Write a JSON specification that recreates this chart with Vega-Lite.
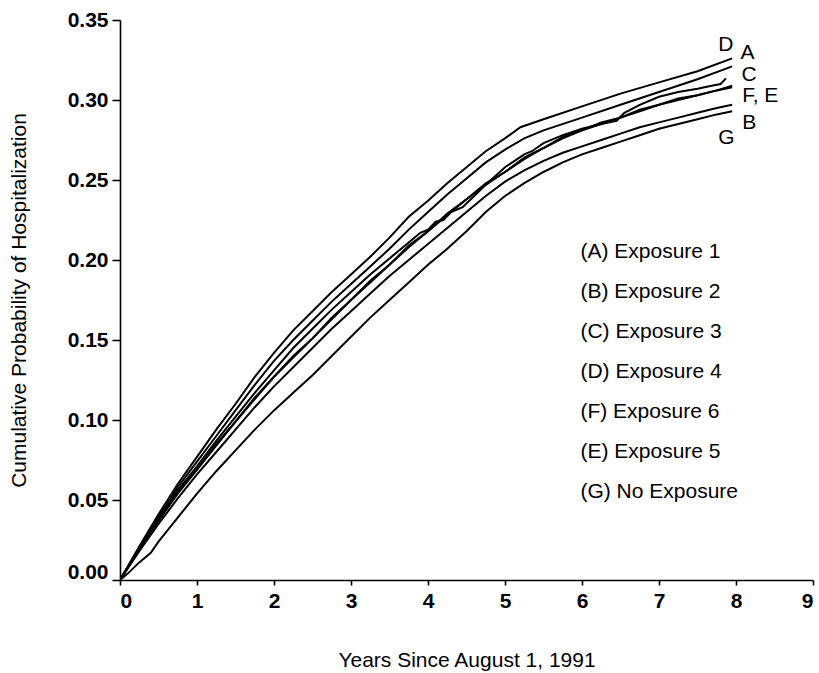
{
  "$schema": "https://vega.github.io/schema/vega-lite/v6.json",
  "width": 693,
  "height": 560,
  "autosize": {"type": "none"},
  "padding": {"left": 120, "top": 20, "right": 6, "bottom": 93},
  "background": "white",
  "config": {
    "view": {"stroke": null},
    "axis": {
      "grid": false,
      "domainColor": "black",
      "domainWidth": 1.6,
      "tickColor": "black",
      "tickWidth": 1.6,
      "labelFont": "Liberation Sans",
      "labelFontWeight": "bold",
      "labelFontSize": 21,
      "labelColor": "black",
      "titleFont": "Liberation Sans",
      "titleFontWeight": "normal",
      "titleFontSize": 21,
      "titleColor": "black"
    }
  },
  "datasets": {
    "curves": [
      {"s":"D","x":0,"y":0},{"s":"D","x":0.25,"y":0.021},{"s":"D","x":0.5,"y":0.041},{"s":"D","x":0.75,"y":0.060},{"s":"D","x":1,"y":0.077},{"s":"D","x":1.25,"y":0.094},{"s":"D","x":1.5,"y":0.110},{"s":"D","x":1.75,"y":0.127},{"s":"D","x":2,"y":0.142},{"s":"D","x":2.25,"y":0.156},{"s":"D","x":2.5,"y":0.168},{"s":"D","x":2.75,"y":0.180},{"s":"D","x":3,"y":0.191},{"s":"D","x":3.25,"y":0.202},{"s":"D","x":3.5,"y":0.214},{"s":"D","x":3.75,"y":0.227},{"s":"D","x":4,"y":0.237},{"s":"D","x":4.25,"y":0.248},{"s":"D","x":4.5,"y":0.258},{"s":"D","x":4.75,"y":0.268},{"s":"D","x":5,"y":0.276},{"s":"D","x":5.2,"y":0.283},{"s":"D","x":5.5,"y":0.288},{"s":"D","x":6,"y":0.296},{"s":"D","x":6.5,"y":0.304},{"s":"D","x":7,"y":0.311},{"s":"D","x":7.5,"y":0.318},{"s":"D","x":7.95,"y":0.326},
      {"s":"A","x":0,"y":0},{"s":"A","x":0.25,"y":0.020},{"s":"A","x":0.5,"y":0.039},{"s":"A","x":0.75,"y":0.058},{"s":"A","x":1,"y":0.074},{"s":"A","x":1.25,"y":0.090},{"s":"A","x":1.5,"y":0.106},{"s":"A","x":1.75,"y":0.122},{"s":"A","x":2,"y":0.137},{"s":"A","x":2.25,"y":0.150},{"s":"A","x":2.5,"y":0.162},{"s":"A","x":2.75,"y":0.174},{"s":"A","x":3,"y":0.185},{"s":"A","x":3.25,"y":0.196},{"s":"A","x":3.5,"y":0.207},{"s":"A","x":3.75,"y":0.219},{"s":"A","x":4,"y":0.230},{"s":"A","x":4.25,"y":0.241},{"s":"A","x":4.5,"y":0.251},{"s":"A","x":4.75,"y":0.261},{"s":"A","x":5,"y":0.269},{"s":"A","x":5.25,"y":0.276},{"s":"A","x":5.5,"y":0.281},{"s":"A","x":6,"y":0.289},{"s":"A","x":6.5,"y":0.297},{"s":"A","x":7,"y":0.305},{"s":"A","x":7.5,"y":0.313},{"s":"A","x":7.95,"y":0.321},
      {"s":"C","x":0,"y":0},{"s":"C","x":0.25,"y":0.020},{"s":"C","x":0.5,"y":0.038},{"s":"C","x":0.75,"y":0.056},{"s":"C","x":1,"y":0.071},{"s":"C","x":1.25,"y":0.087},{"s":"C","x":1.5,"y":0.102},{"s":"C","x":1.75,"y":0.117},{"s":"C","x":2,"y":0.131},{"s":"C","x":2.25,"y":0.145},{"s":"C","x":2.5,"y":0.157},{"s":"C","x":2.75,"y":0.169},{"s":"C","x":3,"y":0.180},{"s":"C","x":3.25,"y":0.191},{"s":"C","x":3.5,"y":0.201},{"s":"C","x":3.75,"y":0.211},{"s":"C","x":3.9,"y":0.217},{"s":"C","x":4,"y":0.219},{"s":"C","x":4.1,"y":0.224},{"s":"C","x":4.2,"y":0.225},{"s":"C","x":4.3,"y":0.230},{"s":"C","x":4.45,"y":0.233},{"s":"C","x":4.75,"y":0.247},{"s":"C","x":5,"y":0.258},{"s":"C","x":5.25,"y":0.266},{"s":"C","x":5.35,"y":0.268},{"s":"C","x":5.5,"y":0.273},{"s":"C","x":5.75,"y":0.278},{"s":"C","x":6,"y":0.282},{"s":"C","x":6.25,"y":0.285},{"s":"C","x":6.45,"y":0.287},{"s":"C","x":6.55,"y":0.292},{"s":"C","x":6.75,"y":0.297},{"s":"C","x":7,"y":0.302},{"s":"C","x":7.25,"y":0.305},{"s":"C","x":7.5,"y":0.307},{"s":"C","x":7.7,"y":0.309},{"s":"C","x":7.8,"y":0.310},{"s":"C","x":7.87,"y":0.3135},
      {"s":"E","x":0,"y":0},{"s":"E","x":0.25,"y":0.019},{"s":"E","x":0.5,"y":0.037},{"s":"E","x":0.75,"y":0.054},{"s":"E","x":1,"y":0.069},{"s":"E","x":1.25,"y":0.084},{"s":"E","x":1.5,"y":0.099},{"s":"E","x":1.75,"y":0.113},{"s":"E","x":2,"y":0.127},{"s":"E","x":2.25,"y":0.139},{"s":"E","x":2.5,"y":0.151},{"s":"E","x":2.75,"y":0.164},{"s":"E","x":3,"y":0.175},{"s":"E","x":3.25,"y":0.186},{"s":"E","x":3.5,"y":0.197},{"s":"E","x":3.75,"y":0.208},{"s":"E","x":4,"y":0.218},{"s":"E","x":4.25,"y":0.228},{"s":"E","x":4.5,"y":0.238},{"s":"E","x":4.75,"y":0.247},{"s":"E","x":5,"y":0.255},{"s":"E","x":5.25,"y":0.263},{"s":"E","x":5.5,"y":0.270},{"s":"E","x":5.75,"y":0.276},{"s":"E","x":6,"y":0.281},{"s":"E","x":6.25,"y":0.285},{"s":"E","x":6.5,"y":0.289},{"s":"E","x":6.75,"y":0.293},{"s":"E","x":7,"y":0.297},{"s":"E","x":7.25,"y":0.300},{"s":"E","x":7.5,"y":0.303},{"s":"E","x":7.75,"y":0.306},{"s":"E","x":7.95,"y":0.308},
      {"s":"F","x":0,"y":0},{"s":"F","x":0.25,"y":0.020},{"s":"F","x":0.5,"y":0.037},{"s":"F","x":0.75,"y":0.055},{"s":"F","x":1,"y":0.069},{"s":"F","x":1.25,"y":0.085},{"s":"F","x":1.5,"y":0.099},{"s":"F","x":1.75,"y":0.114},{"s":"F","x":2,"y":0.127},{"s":"F","x":2.25,"y":0.140},{"s":"F","x":2.5,"y":0.151},{"s":"F","x":2.75,"y":0.163},{"s":"F","x":3,"y":0.175},{"s":"F","x":3.25,"y":0.187},{"s":"F","x":3.5,"y":0.197},{"s":"F","x":3.75,"y":0.209},{"s":"F","x":4,"y":0.218},{"s":"F","x":4.25,"y":0.229},{"s":"F","x":4.5,"y":0.238},{"s":"F","x":4.75,"y":0.248},{"s":"F","x":5,"y":0.255},{"s":"F","x":5.25,"y":0.264},{"s":"F","x":5.5,"y":0.270},{"s":"F","x":5.75,"y":0.277},{"s":"F","x":6,"y":0.281},{"s":"F","x":6.25,"y":0.286},{"s":"F","x":6.5,"y":0.289},{"s":"F","x":6.75,"y":0.294},{"s":"F","x":7,"y":0.297},{"s":"F","x":7.25,"y":0.301},{"s":"F","x":7.5,"y":0.303},{"s":"F","x":7.75,"y":0.306},{"s":"F","x":7.95,"y":0.309},
      {"s":"B","x":0,"y":0},{"s":"B","x":0.25,"y":0.018},{"s":"B","x":0.5,"y":0.035},{"s":"B","x":0.75,"y":0.051},{"s":"B","x":1,"y":0.066},{"s":"B","x":1.25,"y":0.080},{"s":"B","x":1.5,"y":0.094},{"s":"B","x":1.75,"y":0.108},{"s":"B","x":2,"y":0.121},{"s":"B","x":2.25,"y":0.133},{"s":"B","x":2.5,"y":0.145},{"s":"B","x":2.75,"y":0.157},{"s":"B","x":3,"y":0.168},{"s":"B","x":3.25,"y":0.179},{"s":"B","x":3.5,"y":0.190},{"s":"B","x":3.75,"y":0.200},{"s":"B","x":4,"y":0.210},{"s":"B","x":4.25,"y":0.220},{"s":"B","x":4.5,"y":0.230},{"s":"B","x":4.75,"y":0.240},{"s":"B","x":5,"y":0.249},{"s":"B","x":5.25,"y":0.256},{"s":"B","x":5.5,"y":0.262},{"s":"B","x":5.75,"y":0.267},{"s":"B","x":6,"y":0.271},{"s":"B","x":6.25,"y":0.275},{"s":"B","x":6.5,"y":0.279},{"s":"B","x":6.75,"y":0.283},{"s":"B","x":7,"y":0.286},{"s":"B","x":7.25,"y":0.289},{"s":"B","x":7.5,"y":0.292},{"s":"B","x":7.75,"y":0.295},{"s":"B","x":7.95,"y":0.297},
      {"s":"G","x":0,"y":0},{"s":"G","x":0.1,"y":0.004},{"s":"G","x":0.25,"y":0.011},{"s":"G","x":0.4,"y":0.017},{"s":"G","x":0.5,"y":0.024},{"s":"G","x":0.75,"y":0.039},{"s":"G","x":1,"y":0.054},{"s":"G","x":1.25,"y":0.068},{"s":"G","x":1.5,"y":0.081},{"s":"G","x":1.75,"y":0.094},{"s":"G","x":2,"y":0.106},{"s":"G","x":2.25,"y":0.117},{"s":"G","x":2.5,"y":0.128},{"s":"G","x":2.75,"y":0.140},{"s":"G","x":3,"y":0.152},{"s":"G","x":3.25,"y":0.164},{"s":"G","x":3.5,"y":0.175},{"s":"G","x":3.75,"y":0.186},{"s":"G","x":4,"y":0.197},{"s":"G","x":4.25,"y":0.207},{"s":"G","x":4.5,"y":0.218},{"s":"G","x":4.75,"y":0.230},{"s":"G","x":5,"y":0.240},{"s":"G","x":5.25,"y":0.248},{"s":"G","x":5.5,"y":0.255},{"s":"G","x":5.75,"y":0.261},{"s":"G","x":6,"y":0.266},{"s":"G","x":6.25,"y":0.270},{"s":"G","x":6.5,"y":0.274},{"s":"G","x":6.75,"y":0.278},{"s":"G","x":7,"y":0.282},{"s":"G","x":7.25,"y":0.285},{"s":"G","x":7.5,"y":0.288},{"s":"G","x":7.75,"y":0.291},{"s":"G","x":7.95,"y":0.293}
    ],
    "legend": [
      {"label":"(A) Exposure 1","x":5.98,"y":0.205},
      {"label":"(B) Exposure 2","x":5.98,"y":0.180},
      {"label":"(C) Exposure 3","x":5.98,"y":0.155},
      {"label":"(D) Exposure 4","x":5.98,"y":0.130},
      {"label":"(F) Exposure 6","x":5.98,"y":0.105},
      {"label":"(E) Exposure 5","x":5.98,"y":0.080},
      {"label":"(G) No Exposure","x":5.98,"y":0.055}
    ],
    "ends": [
      {"label":"D","x":7.77,"y":0.3344},
      {"label":"A","x":8.06,"y":0.3296},
      {"label":"C","x":8.07,"y":0.3156},
      {"label":"F, E","x":8.08,"y":0.3025},
      {"label":"B","x":8.08,"y":0.2854},
      {"label":"G","x":7.77,"y":0.2760}
    ]
  },
  "layer": [
    {
      "data": {"name": "curves"},
      "mark": {"type": "line", "color": "black", "strokeWidth": 2, "clip": true},
      "encoding": {
        "x": {
          "field": "x", "type": "quantitative",
          "scale": {"domain": [0, 9], "nice": false, "zero": true},
          "axis": {
            "values": [0,1,2,3,4,5,6,7,8,9],
            "format": "d",
            "tickSize": 5,
            "labelPadding": 5,
            "title": "Years Since August 1, 1991",
            "titlePadding": 38
          }
        },
        "y": {
          "field": "y", "type": "quantitative",
          "scale": {"domain": [0, 0.35], "nice": false},
          "axis": {
            "values": [0,0.05,0.1,0.15,0.2,0.25,0.3,0.35],
            "format": ".2f",
            "tickSize": 8,
            "labelPadding": 4,
            "labelOffset": {"condition": {"test": "datum.value === 0", "value": -8}, "value": 0},
            "title": "Cumulative Probability of Hospitalization",
            "titlePadding": 38
          }
        },
        "detail": {"field": "s"},
        "order": {"field": "x", "type": "quantitative"}
      }
    },
    {
      "data": {"name": "legend"},
      "mark": {"type": "text", "align": "left", "baseline": "middle", "font": "Liberation Sans", "fontSize": 21, "color": "black"},
      "encoding": {
        "x": {"field": "x", "type": "quantitative"},
        "y": {"field": "y", "type": "quantitative"},
        "text": {"field": "label"}
      }
    },
    {
      "data": {"name": "ends"},
      "mark": {"type": "text", "align": "left", "baseline": "middle", "font": "Liberation Sans", "fontSize": 21, "color": "black"},
      "encoding": {
        "x": {"field": "x", "type": "quantitative"},
        "y": {"field": "y", "type": "quantitative"},
        "text": {"field": "label"}
      }
    }
  ]
}
